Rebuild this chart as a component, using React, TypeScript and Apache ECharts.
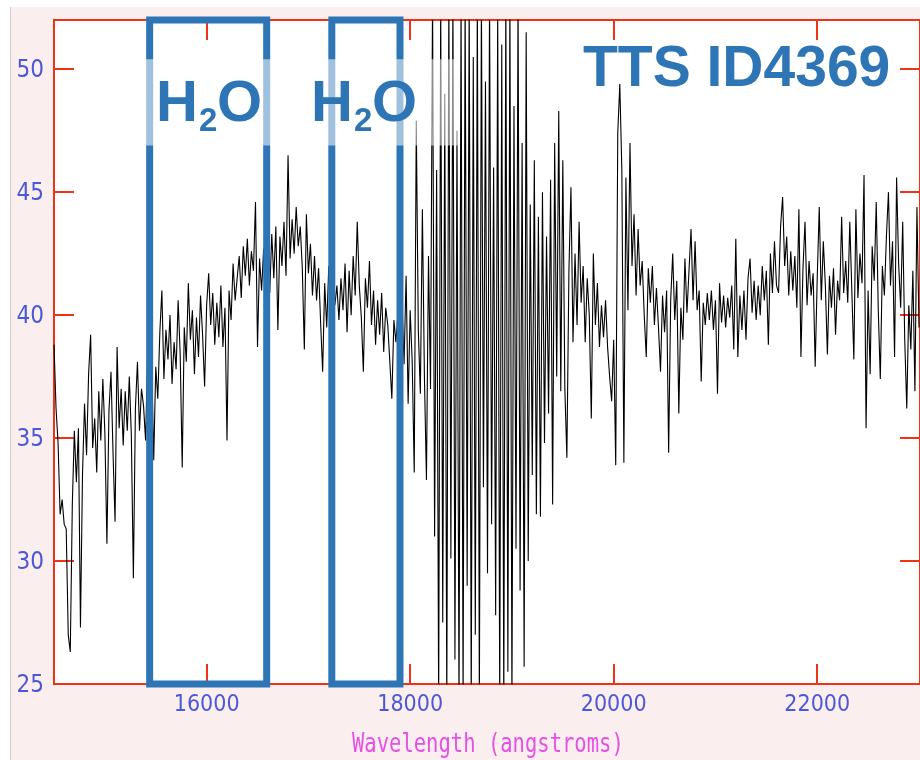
import React, { useEffect, useRef } from "react";
import * as echarts from "echarts";

// Spectrum sampled every 20 Å starting at 14500 Å
const WAVELENGTH_START = 14500;
const WAVELENGTH_STEP = 20;
const flux = [
  38.8, 36.2, 34.8, 31.9, 32.5, 31.5, 31.3, 27.0, 26.3, 32.3,
  35.3, 33.2, 35.4, 27.3, 33.5, 36.4, 34.3, 37.6, 39.2, 34.6,
  35.8, 33.6, 36.9, 34.9, 37.4, 35.2, 30.7, 36.1, 37.7, 34.4,
  31.6, 38.7, 35.4, 37.0, 34.7, 36.9, 35.3, 37.5, 35.1, 29.3,
  36.2, 38.1, 35.3, 37.0, 36.3, 34.9, 38.4, 36.8, 38.0, 34.1,
  37.9, 36.6, 39.3, 41.0, 37.4, 39.4, 38.2, 40.0, 37.2, 38.9,
  37.8, 40.6, 38.4, 33.8, 39.5, 38.1, 41.3, 39.0, 40.2, 37.6,
  39.9, 38.3, 40.8, 39.2, 37.1, 40.4, 41.7, 39.6, 40.9, 38.8,
  40.5, 39.1, 41.2, 38.7, 40.3, 34.9, 41.0, 39.8, 42.1, 40.6,
  41.5, 42.4, 40.7, 42.8, 41.6, 43.1, 41.2, 42.6, 41.8, 44.6,
  38.7, 42.3, 41.0, 42.7, 40.2, 41.8, 40.9, 43.3, 41.5, 43.6,
  39.4, 43.2, 42.0, 43.8, 41.6, 46.5, 42.3, 43.9, 42.5, 44.4,
  42.8, 43.6, 41.9, 38.6, 44.1, 41.7, 42.9, 40.8, 42.4, 40.6,
  41.9, 39.7, 37.7, 41.3, 39.5, 42.0, 40.1, 41.6, 40.4, 41.2,
  39.8, 41.5, 40.2, 42.1, 39.3, 41.8, 40.0, 42.4, 40.8, 43.8,
  41.2, 39.9, 37.7, 41.5, 40.3, 42.2, 39.6, 41.0, 38.8, 40.6,
  39.2, 40.9, 38.5, 40.3, 39.6, 38.1, 36.6, 39.8, 38.9, 40.1,
  37.2, 40.5, 38.0, 41.6, 36.4, 40.2, 38.1, 33.6, 47.9, 39.4,
  36.8, 44.3, 37.5, 33.3, 42.4, 37.0, 53.0, 31.0, 45.9, 24.0,
  53.0, 27.5, 49.0, 24.0, 53.0, 30.1, 53.0, 26.0, 47.5, 24.0,
  53.0, 24.0, 53.0, 29.0, 53.0, 24.0, 50.5, 27.0, 53.0, 24.0,
  53.0, 33.0, 49.5, 29.5, 53.0, 31.5, 46.0, 27.8, 52.5, 24.0,
  51.0, 24.0, 53.0, 25.5, 53.0, 24.0, 48.5, 30.5, 53.0, 28.8,
  47.0, 25.7, 51.5, 30.0, 44.5, 33.5, 46.3, 31.9, 44.0, 31.8,
  45.0, 34.8, 43.2, 36.0, 45.5, 32.3, 47.0, 37.5, 48.3, 36.9,
  46.3, 37.0, 34.2, 41.8, 45.2, 38.9, 42.5, 39.6, 43.8, 40.5,
  42.0, 38.9, 41.5, 40.0, 35.8, 42.5, 39.6, 41.3, 38.7, 40.4,
  39.1, 40.6, 38.7, 37.5, 36.5, 39.0, 33.9, 47.4, 49.4, 45.9,
  34.0, 45.6, 40.2, 47.0, 42.0, 44.1, 40.8, 43.5, 41.2, 42.2,
  40.0, 38.3, 41.9, 40.5, 42.0, 39.6, 41.1, 39.5, 37.7, 40.8,
  39.3, 41.0, 34.4, 40.6, 42.5, 39.8, 41.4, 36.0, 40.3, 39.0,
  42.3, 40.1, 41.8, 43.5, 40.6, 43.0, 40.2, 41.0, 37.3, 40.5,
  39.6, 40.9, 39.8, 41.0, 39.4, 40.6, 36.8, 41.3, 39.7, 40.8,
  39.5, 40.7, 39.9, 41.2, 38.6, 43.1, 38.3, 40.8, 39.4, 41.0,
  39.0, 41.5, 42.3, 40.1, 41.4, 39.8, 41.2, 40.0, 42.0, 40.6,
  41.8, 38.8, 42.5, 40.9, 43.0, 41.2, 40.9, 43.6, 44.8, 42.0,
  43.2, 40.8, 42.6, 41.0, 42.4, 40.3, 44.3, 38.3, 41.9, 43.8,
  40.4, 42.2, 40.8, 41.7, 37.9, 41.5, 44.4, 40.6, 43.0, 41.2,
  38.4, 41.6, 40.3, 41.9, 39.2, 41.4, 40.6, 44.0, 40.9, 42.2,
  40.5, 43.8, 41.0, 38.2, 44.3, 40.7, 42.5, 41.3, 45.7, 35.4,
  41.0, 37.6, 42.8, 41.4, 44.6, 40.2, 37.4, 42.0, 40.8, 43.2,
  45.0, 41.2, 43.0, 38.3, 45.6, 42.1, 40.3, 43.8, 39.0, 36.2,
  40.4, 38.6, 41.8, 36.9, 44.4, 39.5,
];

const xTicks = [16000, 18000, 20000, 22000];
const yTicks = [25, 30, 35, 40, 45, 50];
// H2O absorption windows (Å)
const h2oWindows = [
  [15440, 16590],
  [17230, 17900],
];
// faded band behind the H2O labels: [x0, y0, x1, y1] in data units
const labelBand = [15340, 50.4, 18480, 46.9];

const X_MIN = 14500;
const X_MAX = 23010;
const Y_MIN = 25;
const Y_MAX = 52;

const RED = "#ee3318";
const LABEL_BLUE = "#4b59d9";
const BOX_BLUE = "#2e75b6";
const TICK_FONT = "'Liberation Sans Narrow', 'DejaVu Sans Condensed', sans-serif";
const BOLD_FONT = "'Liberation Sans', Arial, sans-serif";

export default function App() {
  const ref = useRef<HTMLDivElement>(null);

  useEffect(() => {
    if (!ref.current) return;
    const chart = echarts.init(ref.current, undefined, { renderer: "svg" });

    const data = flux.map((v, i) => [WAVELENGTH_START + i * WAVELENGTH_STEP, v]);

    const axisLine = { show: true, lineStyle: { color: RED, width: 2 } };
    const tick = (vals: number[]) => ({
      show: true,
      inside: true,
      length: 20,
      customValues: vals,
      lineStyle: { color: RED, width: 2 },
    });

    const h2oText = (x: number) => [
      {
        type: "text",
        x: x,
        y: 100,
        z: 20,
        silent: true,
        style: { text: "H", font: `bold 58px ${BOLD_FONT}`, fill: BOX_BLUE, verticalAlign: "middle", align: "left" },
      },
      {
        type: "text",
        x: x + 43,
        y: 119,
        z: 20,
        silent: true,
        style: { text: "2", font: `bold 33px ${BOLD_FONT}`, fill: BOX_BLUE, verticalAlign: "middle", align: "left" },
      },
      {
        type: "text",
        x: x + 61,
        y: 100,
        z: 20,
        silent: true,
        style: { text: "O", font: `bold 58px ${BOLD_FONT}`, fill: BOX_BLUE, verticalAlign: "middle", align: "left" },
      },
    ];

    chart.setOption({
      animation: false,
      grid: {
        left: 54,
        top: 20,
        right: -2,
        bottom: 76,
        show: true,
        backgroundColor: "#ffffff",
        borderWidth: 0,
      },
      xAxis: [
        {
          type: "value",
          min: X_MIN,
          max: X_MAX,
          position: "bottom",
          axisLine,
          axisTick: tick(xTicks),
          splitLine: { show: false },
          axisLabel: {
            customValues: xTicks,
            formatter: (v: number) => String(v),
            color: LABEL_BLUE,
            fontSize: 23,
            fontFamily: TICK_FONT,
            margin: 7,
          },
        },
        {
          type: "value",
          min: X_MIN,
          max: X_MAX,
          position: "top",
          axisLine,
          axisTick: tick(xTicks),
          splitLine: { show: false },
          axisLabel: { show: false },
        },
      ],
      yAxis: [
        {
          type: "value",
          min: Y_MIN,
          max: Y_MAX,
          position: "left",
          axisLine,
          axisTick: tick(yTicks),
          splitLine: { show: false },
          axisLabel: {
            customValues: yTicks,
            formatter: (v: number) => String(v),
            color: LABEL_BLUE,
            fontSize: 24,
            fontFamily: TICK_FONT,
            margin: 10,
          },
        },
        {
          type: "value",
          min: Y_MIN,
          max: Y_MAX,
          position: "right",
          axisLine,
          axisTick: tick(yTicks),
          splitLine: { show: false },
          axisLabel: { show: false },
        },
      ],
      series: [
        {
          type: "line",
          data,
          xAxisIndex: 0,
          yAxisIndex: 0,
          showSymbol: false,
          symbol: "none",
          clip: true,
          z: 2,
          lineStyle: { color: "#000000", width: 1.1 },
        },
        {
          type: "line",
          data: [],
          xAxisIndex: 0,
          yAxisIndex: 0,
          z: 3,
          markArea: {
            silent: true,
            z: 3,
            itemStyle: { color: "rgba(0,0,0,0)", borderColor: BOX_BLUE, borderWidth: 7 },
            label: { show: false },
            data: h2oWindows.map(([a, b]) => [{ xAxis: a }, { xAxis: b }]),
          },
        },
        {
          type: "line",
          data: [],
          xAxisIndex: 0,
          yAxisIndex: 0,
          z: 4,
          markArea: {
            silent: true,
            z: 4,
            itemStyle: { color: "rgba(255,255,255,0.55)", borderWidth: 0 },
            label: { show: false },
            data: [[{ coord: [labelBand[0], labelBand[1]] }, { coord: [labelBand[2], labelBand[3]] }]],
          },
        },
      ],
      graphic: [
        {
          type: "rect",
          z: -100,
          silent: true,
          shape: { x: 10, y: 7, width: 912, height: 760 },
          style: { fill: "#fbeeee" },
        },
        {
          type: "line",
          z: -99,
          silent: true,
          shape: { x1: 10.5, y1: 7, x2: 10.5, y2: 760 },
          style: { stroke: "#d6cccc", lineWidth: 1 },
        },
        ...h2oText(156),
        ...h2oText(311),
        {
          type: "text",
          x: 583,
          y: 66,
          z: 20,
          silent: true,
          style: {
            text: "TTS ID4369",
            font: `bold 57px ${BOLD_FONT}`,
            fill: BOX_BLUE,
            verticalAlign: "middle",
            align: "left",
          },
        },
        {
          type: "text",
          x: 352,
          y: 743,
          z: 20,
          scaleX: 0.79,
          silent: true,
          style: {
            text: "Wavelength (angstroms)",
            font: `26px 'DejaVu Sans Mono', monospace`,
            fill: "#e650e6",
            verticalAlign: "middle",
            align: "left",
          },
        },
      ],
    });

    return () => chart.dispose();
  }, []);

  return (
    <div
      ref={ref}
      style={{ position: "fixed", left: 0, top: 0, width: 920, height: 760 }}
    />
  );
}
